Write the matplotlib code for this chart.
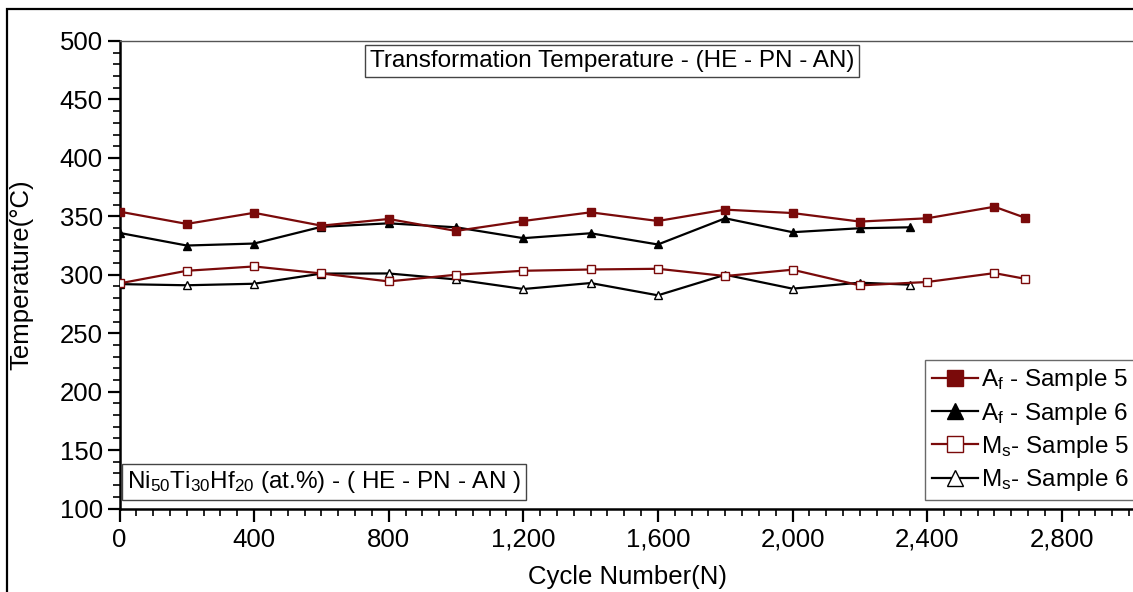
import matplotlib
matplotlib.use("Agg")
import matplotlib.pyplot as plt
from matplotlib.patches import Rectangle
from matplotlib.ticker import MultipleLocator, FuncFormatter

plt.rcParams['font.family'] = ['Liberation Sans', 'DejaVu Sans']
plt.rcParams['mathtext.fontset'] = 'custom'
plt.rcParams['mathtext.rm'] = 'Liberation Sans'
plt.rcParams['mathtext.it'] = 'Liberation Sans'
plt.rcParams['mathtext.default'] = 'regular'

# Transformation temperatures over thermal cycling
cycles_s5 = [0, 200, 400, 600, 800, 1000, 1200, 1400, 1600, 1800, 2000, 2200, 2400, 2600, 2690]
af_s5 = [354, 343.5, 353, 342, 347.7, 337.5, 346, 353.4, 346, 355.7, 352.8, 345.5, 348.3, 358.2, 348.9]
ms_s5 = [292.6, 303.4, 307.1, 301.1, 294.3, 300, 303.4, 304.5, 305.1, 298.9, 304.3, 290.9, 293.8, 301.4, 296.6]

cycles_s6 = [0, 200, 400, 600, 800, 1000, 1200, 1400, 1600, 1800, 2000, 2200, 2350]
af_s6 = [335.8, 325, 326.7, 341, 344, 340.6, 331.3, 335.5, 325.9, 348.3, 336.4, 339.8, 340.6]
ms_s6 = [292, 291, 292.3, 301, 301.1, 296, 287.8, 292.9, 282.4, 300, 288.1, 293.2, 291.5]

labels = [r'A$_\mathrm{f}$ - Sample 5', r'A$_\mathrm{f}$ - Sample 6',
          r'M$_\mathrm{s}$- Sample 5', r'M$_\mathrm{s}$- Sample 6']

W, H = 1133, 592
DARK_RED = '#7a0a0a'
FS_TICK = 18.5
FS_LABEL = 18.5
FS_TEXT = 17.5

fig = plt.figure(figsize=(W / 100, H / 100), dpi=100)

# axes placed in pixel units; the x range runs past the right edge of the figure
x0_px, x_end_px, y_top_px, y_bot_px = 119.5, 1129.0, 41.0, 508.5
xmax = 3100
px_per_unit = (x_end_px - x0_px) / 3000
ax_w_px = xmax * px_per_unit
ax_h_px = y_bot_px - y_top_px
ax = fig.add_axes([x0_px / W, 1 - y_bot_px / H, ax_w_px / W, ax_h_px / H])

ax.plot(cycles_s5, af_s5, color=DARK_RED, lw=1.6, marker='s', ms=5.5,
        mfc=DARK_RED, mec=DARK_RED, label=labels[0], zorder=4)
ax.plot(cycles_s6, af_s6, color='black', lw=1.6, marker='^', ms=5.5,
        mfc='black', mec='black', label=labels[1], zorder=3)
ax.plot(cycles_s5, ms_s5, color=DARK_RED, lw=1.6, marker='s', ms=5.5,
        mfc='white', mec=DARK_RED, mew=1.0, label=labels[2], zorder=4)
ax.plot(cycles_s6, ms_s6, color='black', lw=1.6, marker='^', ms=5.5,
        mfc='white', mec='black', mew=1.0, label=labels[3], zorder=3)

ax.set_xlim(0, xmax)
ax.set_ylim(100, 500)
ax.xaxis.set_major_locator(MultipleLocator(400))
ax.xaxis.set_minor_locator(MultipleLocator(50))
ax.yaxis.set_major_locator(MultipleLocator(50))
ax.yaxis.set_minor_locator(MultipleLocator(10))
ax.xaxis.set_major_formatter(FuncFormatter(lambda v, p: f'{int(v):,}'))

ax.spines['right'].set_visible(False)
ax.spines['left'].set_linewidth(1.8)
ax.spines['bottom'].set_linewidth(1.8)
ax.spines['top'].set_linewidth(1.0)
ax.spines['top'].set_color('#555555')
ax.tick_params(which='major', direction='out', length=9, width=1.6, labelsize=FS_TICK, pad=3)
ax.tick_params(which='minor', direction='out', length=5, width=1.2)
ax.tick_params(axis='x', which='major', pad=5)
ax.tick_params(top=False, right=False, which='both')

ax.set_ylabel('Temperature(°C)', fontsize=FS_LABEL)
ax.yaxis.set_label_coords((33 - x0_px) / ax_w_px, 0.5)
ax.set_xlabel('Cycle Number(N)', fontsize=FS_LABEL)
ax.xaxis.set_label_coords((627 - x0_px) / ax_w_px, (y_bot_px - 565) / ax_h_px)

box = dict(boxstyle='square,pad=0.2', facecolor='white', edgecolor='#444444', linewidth=1.0)
fig.text(612 / W, 1 - 61 / H, 'Transformation Temperature - (HE - PN - AN)',
         fontsize=FS_TEXT, ha='center', va='center', bbox=box)
fig.text(324 / W, 1 - 482 / H, r'Ni$_{50}$Ti$_{30}$Hf$_{20}$ (at.%) - ( HE - PN - AN )',
         fontsize=FS_TEXT, ha='center', va='center', bbox=box)

leg = fig.legend(loc='upper left', bbox_to_anchor=(925 / W, 1 - 360 / H),
                 fontsize=FS_TEXT, frameon=True, fancybox=False, markerscale=2.0,
                 handlelength=1.9, handletextpad=0.1, labelspacing=0.3,
                 borderpad=0.3, borderaxespad=0)
leg.get_frame().set_edgecolor('#444444')
leg.get_frame().set_linewidth(1.0)

# outer frame around the figure
fig.patches.append(Rectangle((7 / W, -0.1), 1.2, 1 - 9 / H + 0.1, transform=fig.transFigure,
                             fill=False, edgecolor='black', linewidth=1.6, zorder=10))

fig.savefig('out.png', dpi=100)
